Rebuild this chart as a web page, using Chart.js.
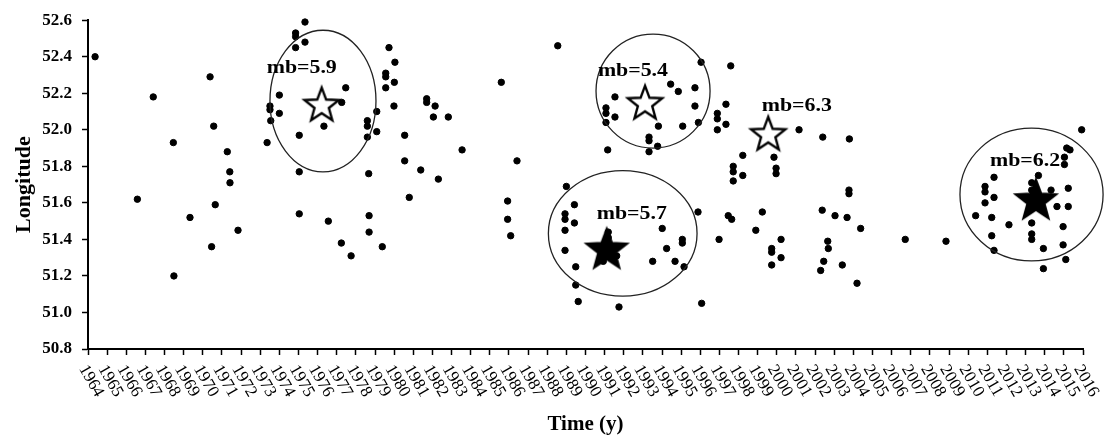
<!DOCTYPE html>
<html>
<head>
<meta charset="utf-8">
<script src="https://cdn.jsdelivr.net/npm/chart.js@4.4.1/dist/chart.umd.min.js"></script>
<style>
  html, body { margin: 0; padding: 0; background: #fff; }
</style>
</head>
<body>
<canvas id="quakeChart" width="1104" height="435"></canvas>
<script>
// axis ticks
const yearTicks = [1964, 1965, 1966, 1967, 1968, 1969, 1970, 1971, 1972, 1973, 1974, 1975, 1976,
    1977, 1978, 1979, 1980, 1981, 1982, 1983, 1984, 1985, 1986, 1987, 1988, 1989, 1990, 1991,
    1992, 1993, 1994, 1995, 1996, 1997, 1998, 1999, 2000, 2001, 2002, 2003, 2004, 2005, 2006,
    2007, 2008, 2009, 2010, 2011, 2012, 2013, 2014, 2015, 2016];
const lonTicks = [50.8, 51, 51.2, 51.4, 51.6, 51.8, 52, 52.2, 52.4, 52.6];

// events (time in decimal years, longitude)
const quakeYears = [
    1964.37, 1966.58, 1967.41, 1968.46, 1968.49, 1969.33, 1970.38, 1970.46, 1970.57, 1970.65, 1971.28, 1971.41, 1971.42, 1971.84,
    1973.36, 1973.51, 1973.51, 1973.55, 1974.00, 1974.00, 1974.85, 1974.85, 1974.85, 1975.04, 1975.04, 1975.04, 1975.34, 1975.34,
    1976.33, 1976.56, 1977.24, 1977.26, 1977.47, 1977.75, 1978.60, 1978.60, 1978.60, 1978.67, 1978.69, 1978.69,
    1979.09, 1979.09, 1979.38, 1979.56, 1979.56, 1979.56, 1979.73, 1979.99, 1980.01, 1980.04, 1980.55, 1980.55, 1980.79, 1981.39,
    1981.70, 1981.70, 1982.05, 1982.14, 1982.31, 1982.83, 1983.55, 1985.60, 1985.93, 1985.93, 1986.09, 1986.42,
    1988.55, 1988.93, 1988.93, 1988.93, 1988.93, 1989.00, 1989.42, 1989.42, 1989.49, 1989.49, 1989.62,
    1990.93, 1991.07, 1991.07, 1991.07, 1991.16, 1991.19, 1991.19, 1991.54, 1991.54, 1991.63, 1991.75, 1993.32, 1993.32, 1993.32, 1993.51, 1993.77, 1993.81,
    1994.01, 1994.24, 1994.45, 1994.68, 1994.85, 1995.06, 1995.06, 1995.08, 1995.15, 1995.72, 1995.72, 1995.88, 1995.90, 1996.04, 1996.07,
    1996.89, 1996.89, 1996.89, 1996.98, 1997.34, 1997.34, 1997.46, 1997.59, 1997.64, 1997.72, 1997.72, 1997.72, 1998.22, 1998.22, 1998.90, 1999.24,
    1999.73, 1999.73, 1999.73, 1999.85, 1999.96, 1999.96, 2000.22, 2000.22, 2001.16,
    2002.29, 2002.37, 2002.40, 2002.45, 2002.66, 2002.69, 2003.04, 2003.42, 2003.67, 2003.77, 2003.77, 2003.79, 2004.19, 2004.38, 2006.71, 2008.84,
    2010.39, 2010.88, 2010.88, 2010.88, 2011.23, 2011.23, 2011.35, 2011.35, 2011.35, 2012.13,
    2013.32, 2013.32, 2013.32, 2013.32, 2013.32, 2013.67, 2013.93, 2013.93, 2014.33, 2014.64, 2014.96, 2014.96, 2015.03, 2015.03, 2015.10, 2015.15, 2015.23, 2015.23, 2015.32, 2015.93
];
const quakeLons = [
    52.40, 51.62, 52.18, 51.93, 51.20, 51.52, 52.29, 51.36, 52.02, 51.59, 51.88, 51.77, 51.71, 51.45,
    51.93, 52.13, 52.11, 52.05, 52.19, 52.09, 52.53, 52.51, 52.45, 51.97, 51.77, 51.54, 52.59, 52.48,
    52.02, 51.50, 51.38, 52.15, 52.23, 51.31, 52.05, 52.02, 51.96, 51.76, 51.53, 51.44,
    52.10, 51.99, 51.36, 52.31, 52.29, 52.23, 52.45, 52.13, 52.26, 52.37, 51.97, 51.83, 51.63, 51.78,
    52.17, 52.15, 52.07, 52.13, 51.73, 52.07, 51.89, 52.26, 51.61, 51.51, 51.42, 51.83,
    52.46, 51.54, 51.51, 51.45, 51.34, 51.69, 51.59, 51.49, 51.25, 51.15, 51.06,
    51.28, 52.12, 52.09, 52.04, 51.89, 51.44, 51.41, 52.18, 52.07, 51.31, 51.03, 51.96, 51.94, 51.88, 51.28, 51.91, 52.02,
    51.46, 51.35, 52.25, 51.28, 52.21, 51.40, 51.38, 52.02, 51.25, 52.23, 52.13, 51.55, 52.04, 52.37, 51.05,
    52.09, 52.06, 52.00, 51.40, 52.14, 52.03, 51.53, 52.35, 51.51, 51.80, 51.77, 51.72, 51.86, 51.75, 51.45, 51.55,
    51.35, 51.33, 51.26, 51.85, 51.79, 51.76, 51.40, 51.30, 52.00,
    51.23, 51.56, 51.96, 51.28, 51.39, 51.35, 51.53, 51.26, 51.52, 51.67, 51.65, 51.95, 51.16, 51.46, 51.40, 51.39,
    51.53, 51.69, 51.66, 51.60, 51.52, 51.42, 51.74, 51.63, 51.34, 51.48,
    51.71, 51.67, 51.49, 51.43, 51.40, 51.75, 51.35, 51.24, 51.67, 51.58, 51.47, 51.37, 51.85, 51.81, 51.29, 51.90, 51.68, 51.58, 51.89, 52.00
];

// main shocks
const mainYears = [1976.21, 1993.11, 1991.11, 1999.55, 2013.54];
const mainLons = [52.14, 52.15, 51.35, 51.98, 51.62];
const mainFilled = [false, false, true, false, true];
const mainLabels = ['mb=5.9', 'mb=5.4', 'mb=5.7', 'mb=6.3', 'mb=6.2'];
const labelYears = [1975.17, 1992.48, 1992.42, 2001.04, 2012.97];
const labelLons = [52.34, 52.32, 51.54, 52.13, 51.83];

// aftershock zones (extent in years / longitude)
const zoneYearFrom = [1973.51, 1990.55, 1988.06, 2009.57];
const zoneYearTo = [1979.05, 1996.51, 1995.83, 2017.05];
const zoneLonTop = [52.545, 52.524, 51.776, 52.009];
const zoneLonBottom = [51.77, 51.90, 51.089, 51.282];

const serif = "'Liberation Serif', 'Times New Roman', serif";

// star images used as point styles
function makeStar(radius, filled) {
    const size = Math.ceil(radius * 2 + 6);
    const c = document.createElement('canvas');
    c.width = size; c.height = size;
    const g = c.getContext('2d');
    const cx = size / 2, cy = size / 2 + radius * 0.08;
    const inner = radius * 0.42;
    g.beginPath();
    for (let i = 0; i < 10; i++) {
        const r = i % 2 === 0 ? radius : inner;
        const a = -Math.PI / 2 + i * Math.PI / 5;
        const px = cx + r * Math.cos(a), py = cy + r * Math.sin(a);
        if (i === 0) g.moveTo(px, py); else g.lineTo(px, py);
    }
    g.closePath();
    g.fillStyle = filled ? '#000' : '#fff';
    g.fill();
    g.lineWidth = 2.4;
    g.lineJoin = 'miter';
    g.strokeStyle = '#000';
    g.stroke();
    return c;
}
const hollowStar = makeStar(18, false);
const solidStar = makeStar(21, true);

const quakePoints = quakeYears.map((yr, i) => ({ x: yr, y: quakeLons[i] }));
const mainPoints = mainYears.map((yr, i) => ({ x: yr, y: mainLons[i] }));

// rings, magnitude labels and slanted year labels
const annotatePlugin = {
    id: 'annotate',
    afterDatasetsDraw(chart) {
        const ctx = chart.ctx;
        const xs = chart.scales.x, ys = chart.scales.y;
        ctx.save();
        ctx.strokeStyle = '#222';
        ctx.lineWidth = 1.3;
        zoneYearFrom.forEach((from, i) => {
            const x1 = xs.getPixelForValue(from), x2 = xs.getPixelForValue(zoneYearTo[i]);
            const y1 = ys.getPixelForValue(zoneLonTop[i]), y2 = ys.getPixelForValue(zoneLonBottom[i]);
            ctx.beginPath();
            ctx.ellipse((x1 + x2) / 2, (y1 + y2) / 2, (x2 - x1) / 2, (y2 - y1) / 2, 0, 0, Math.PI * 2);
            ctx.stroke();
        });

        ctx.fillStyle = '#000';
        ctx.font = 'bold 19px ' + serif;
        ctx.textAlign = 'center';
        ctx.textBaseline = 'middle';
        mainLabels.forEach((txt, i) => {
            const px = xs.getPixelForValue(labelYears[i]);
            const py = ys.getPixelForValue(labelLons[i]);
            ctx.save();
            ctx.translate(px, py);
            ctx.scale(1.15, 1);
            ctx.fillText(txt, 0, 0);
            ctx.restore();
        });
        ctx.restore();
    },
    afterDraw(chart) {
        const ctx = chart.ctx;
        const xs = chart.scales.x;
        const base = chart.chartArea.bottom;
        ctx.save();
        ctx.fillStyle = '#000';
        ctx.font = '17px ' + serif;
        ctx.textAlign = 'left';
        ctx.textBaseline = 'top';
        yearTicks.forEach(yr => {
            ctx.save();
            ctx.translate(xs.getPixelForValue(yr) + 2, base + 13);
            ctx.rotate(60 * Math.PI / 180);
            ctx.fillText(String(yr), 0, 0);
            ctx.restore();
        });
        ctx.restore();
    }
};

new Chart(document.getElementById('quakeChart'), {
    type: 'scatter',
    data: {
        datasets: [{
            label: 'events',
            data: quakePoints,
            backgroundColor: '#000',
            borderColor: '#000',
            pointRadius: 3.2,
            pointHoverRadius: 3.2,
            clip: false
        }, {
            label: 'main shocks',
            data: mainPoints,
            pointStyle: mainFilled.map(f => f ? solidStar : hollowStar),
            clip: false
        }]
    },
    options: {
        responsive: false,
        animation: false,
        events: [],
        layout: { padding: { top: 19, right: 21, bottom: 0, left: 0 } },
        plugins: {
            legend: { display: false },
            tooltip: { enabled: false }
        },
        scales: {
            x: {
                type: 'linear',
                min: 1964,
                max: 2016,
                afterBuildTicks: s => { s.ticks = yearTicks.map(v => ({ value: v })); },
                afterFit: s => { s.height = 86; },
                ticks: { display: false },
                grid: { drawOnChartArea: false, tickLength: 6, tickColor: '#000', tickWidth: 1.5 },
                border: { color: '#000', width: 2 },
                title: {
                    display: true,
                    text: 'Time (y)',
                    color: '#000',
                    font: { family: serif, size: 21, weight: 'bold', lineHeight: 1 },
                    padding: { top: 0, bottom: 0 }
                }
            },
            y: {
                min: 50.8,
                max: 52.6,
                afterBuildTicks: s => { s.ticks = lonTicks.map(v => ({ value: v })); },
                afterFit: s => { s.width = 88; },
                ticks: {
                    color: '#000',
                    padding: 10,
                    font: { family: serif, size: 17, weight: 'bold' }
                },
                grid: { drawOnChartArea: false, tickLength: 6, tickColor: '#000', tickWidth: 1.5 },
                border: { color: '#000', width: 2 },
                title: {
                    display: true,
                    text: 'Longitude',
                    color: '#000',
                    font: { family: serif, size: 22, weight: 'bold', lineHeight: 1 },
                    padding: { top: 13, bottom: 0 }
                }
            }
        }
    },
    plugins: [annotatePlugin]
});
</script>
</body>
</html>
